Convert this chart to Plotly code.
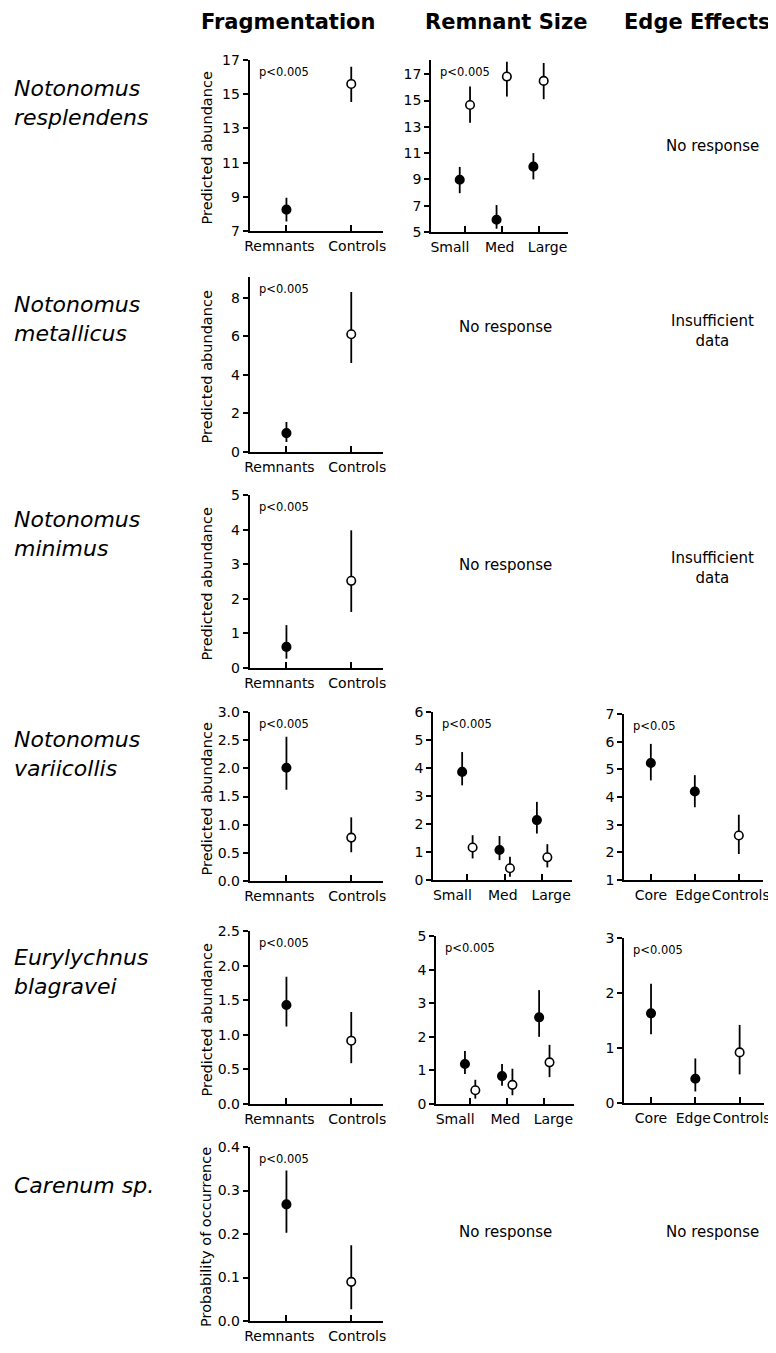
import plotly.graph_objects as go

W, H = 776, 1353
OFF = 8  # page margin of the browser body; figure coordinates are shifted to compensate

# ---------------- data ----------------
COLUMN_HEADERS = ["Fragmentation", "Remnant Size", "Edge Effects"]
SPECIES = [["Notonomus", "resplendens"], ["Notonomus", "metallicus"],
           ["Notonomus", "minimus"], ["Notonomus", "variicollis"],
           ["Eurylychnus", "blagravei"], ["Carenum sp."]]
FRAG_CATS = ["Remnants", "Controls"]
SIZE_CATS = ["Small", "Med", "Large"]
EDGE_CATS = ["Core", "Edge", "Controls"]
FRAG_FILLED = [True, False]
EDGE_FILLED = [True, True, False]

# N. resplendens
resp_frag_mean = [8.25, 15.6]
resp_frag_lo = [7.55, 14.55]
resp_frag_hi = [8.95, 16.6]
resp_size_rem_mean = [8.97, 5.93, 9.97]
resp_size_rem_lo = [7.95, 5.25, 9.0]
resp_size_rem_hi = [9.95, 7.05, 11.0]
resp_size_ctl_mean = [14.66, 16.82, 16.49]
resp_size_ctl_lo = [13.3, 15.3, 15.1]
resp_size_ctl_hi = [16.06, 17.95, 17.85]
# N. metallicus
metal_frag_mean = [0.98, 6.1]
metal_frag_lo = [0.52, 4.61]
metal_frag_hi = [1.55, 8.29]
# N. minimus
minim_frag_mean = [0.61, 2.52]
minim_frag_lo = [0.27, 1.62]
minim_frag_hi = [1.24, 3.98]
# N. variicollis
varii_frag_mean = [2.01, 0.77]
varii_frag_lo = [1.62, 0.51]
varii_frag_hi = [2.56, 1.13]
varii_size_rem_mean = [3.86, 1.07, 2.14]
varii_size_rem_lo = [3.38, 0.71, 1.66]
varii_size_rem_hi = [4.57, 1.57, 2.79]
varii_size_ctl_mean = [1.16, 0.42, 0.81]
varii_size_ctl_lo = [0.77, 0.12, 0.45]
varii_size_ctl_hi = [1.6, 0.83, 1.28]
varii_edge_mean = [5.23, 4.2, 2.61]
varii_edge_lo = [4.6, 3.63, 1.94]
varii_edge_hi = [5.92, 4.79, 3.36]
# Eurylychnus blagravei
eury_frag_mean = [1.43, 0.915]
eury_frag_lo = [1.12, 0.59]
eury_frag_hi = [1.84, 1.33]
eury_size_rem_mean = [1.19, 0.83, 2.58]
eury_size_rem_lo = [0.89, 0.54, 2.0]
eury_size_rem_hi = [1.58, 1.19, 3.39]
eury_size_ctl_mean = [0.41, 0.57, 1.24]
eury_size_ctl_lo = [0.16, 0.26, 0.8]
eury_size_ctl_hi = [0.72, 1.05, 1.76]
eury_edge_mean = [1.63, 0.44, 0.92]
eury_edge_lo = [1.25, 0.21, 0.52]
eury_edge_hi = [2.17, 0.81, 1.42]
# Carenum sp.
caren_frag_mean = [0.268, 0.09]
caren_frag_lo = [0.203, 0.027]
caren_frag_hi = [0.346, 0.174]

P_LABELS = {"p005": "p<0.005", "p05": "p<0.05"}
NO_RESPONSE = "No response"
INSUFFICIENT = "Insufficient<br>data"
YTITLE_ABUND = "Predicted abundance"
YTITLE_PROB = "Probability of occurrence"

# ---------------- layout helpers ----------------
FONT = "DejaVu Sans"
DODGE = 0.14
FW, FH = W - OFF, H - OFF


def fx(x):
    return (x - OFF) / FW


def fy(y):
    return 1 - (y - OFF) / FH


fig = go.Figure()
annotations = []
layout_axes = {}


def marker_trace(xs, ys, lo, hi, filled, ax):
    return go.Scatter(
        x=xs, y=ys, mode="markers", showlegend=False, hoverinfo="skip",
        xaxis="x" + ax, yaxis="y" + ax, cliponaxis=False,
        marker=dict(symbol="circle", size=8.5,
                    color="black" if filled else "white",
                    line=dict(color="black", width=1.6)),
        error_y=dict(type="data", symmetric=False,
                     array=[h - m for h, m in zip(hi, ys)],
                     arrayminus=[m - l for m, l in zip(ys, lo)],
                     width=0, thickness=1.8, color="black"),
    )


def add_panel(n, xd, yd, xr, yr, ytick, yfmt, cats, label_px, series, plabel, ytitle=None):
    ax = "" if n == 1 else str(n)
    lab = str(n + 20)
    for xs, ys, lo, hi, filled in series:
        if xs:
            fig.add_trace(marker_trace(xs, ys, lo, hi, filled, ax))
    # empty trace so that the label axis is drawn
    fig.add_trace(go.Scatter(x=[None], y=[None], mode="markers", showlegend=False,
                             hoverinfo="skip", xaxis="x" + lab, yaxis="y" + ax))
    ticks = list(range(1, len(cats) + 1))
    ppu = (xd[1] - xd[0]) / (xr[1] - xr[0])
    common_x = dict(domain=[fx(xd[0]), fx(xd[1])], range=list(xr), anchor="y" + ax,
                    showgrid=False, zeroline=False, fixedrange=True, automargin=False)
    # axis line + category ticks
    layout_axes["xaxis" + ax] = dict(
        common_x, showline=True, linecolor="black", linewidth=1.5,
        ticks="inside", ticklen=6, tickwidth=1.5, tickcolor="black",
        tickvals=ticks, showticklabels=False)
    # category labels (slightly spread as in the original figure)
    layout_axes["xaxis" + lab] = dict(
        common_x, overlaying="x" + ax, side="bottom", showline=False, ticks="",
        tickmode="array", showticklabels=True,
        tickvals=[t + s / ppu for t, s in zip(ticks, label_px)], ticktext=cats,
        tickangle=0, ticklabelstandoff=5,
        tickfont=dict(family=FONT, size=14, color="black"))
    layout_axes["yaxis" + ax] = dict(
        domain=[fy(yd[1]), fy(yd[0])], range=list(yr), anchor="x" + ax,
        showline=True, linecolor="black", linewidth=1.5,
        ticks="outside", ticklen=5, tickwidth=1.5, tickcolor="black",
        tickvals=ytick, tickformat=yfmt, automargin=False,
        tickfont=dict(family=FONT, size=14, color="black"),
        showgrid=False, zeroline=False, fixedrange=True)
    annotations.append(dict(
        text=plabel, xref="x" + ax + " domain", yref="y" + ax + " domain",
        x=7 / (xd[1] - xd[0]), y=1, xanchor="left", yanchor="middle", yshift=-12,
        showarrow=False, font=dict(family=FONT, size=11.5, color="black")))
    if ytitle:
        annotations.append(dict(
            text=ytitle, xref="paper", yref="paper", x=fx(206),
            y=fy((yd[0] + yd[1]) / 2 + 3), textangle=-90, xanchor="center",
            yanchor="middle", showarrow=False,
            font=dict(family=FONT, size=14.5, color="black")))


def split2(means, lo, hi, flags, positions):
    f = [i for i, v in enumerate(flags) if v]
    o = [i for i, v in enumerate(flags) if not v]
    return [([positions[i] for i in f], [means[i] for i in f], [lo[i] for i in f], [hi[i] for i in f], True),
            ([positions[i] for i in o], [means[i] for i in o], [lo[i] for i in o], [hi[i] for i in o], False)]


def size_series(rm, rl, rh, cm, cl, ch):
    base = list(range(1, len(SIZE_CATS) + 1))
    return [([b - DODGE for b in base], rm, rl, rh, True),
            ([b + DODGE for b in base], cm, cl, ch, False)]


FRAG_POS = list(range(1, len(FRAG_CATS) + 1))
EDGE_POS = list(range(1, len(EDGE_CATS) + 1))
FX = (249.5, 383)
FRX = (0.43, 2.49)
SRX = (0.08, 3.8)
ERX = (0.39, 3.55)
FLAB = [-7, 6]
SLAB = [-15, -2, 9]
ELAB = [0, -2, 2]

# Row 1
add_panel(1, FX, (60, 231), FRX, (7, 17), [7, 9, 11, 13, 15, 17], "d", FRAG_CATS, FLAB,
          split2(resp_frag_mean, resp_frag_lo, resp_frag_hi, FRAG_FILLED, FRAG_POS),
          P_LABELS["p005"], YTITLE_ABUND)
add_panel(2, (431, 568), (60, 232), SRX, (5, 18.08), [5, 7, 9, 11, 13, 15, 17], "d", SIZE_CATS, SLAB,
          size_series(resp_size_rem_mean, resp_size_rem_lo, resp_size_rem_hi,
                      resp_size_ctl_mean, resp_size_ctl_lo, resp_size_ctl_hi),
          P_LABELS["p005"])
# Row 2
add_panel(3, FX, (277, 452), FRX, (0, 9.07), [0, 2, 4, 6, 8], "d", FRAG_CATS, FLAB,
          split2(metal_frag_mean, metal_frag_lo, metal_frag_hi, FRAG_FILLED, FRAG_POS),
          P_LABELS["p005"], YTITLE_ABUND)
# Row 3
add_panel(4, FX, (495, 668), FRX, (0, 5), [0, 1, 2, 3, 4, 5], "d", FRAG_CATS, FLAB,
          split2(minim_frag_mean, minim_frag_lo, minim_frag_hi, FRAG_FILLED, FRAG_POS),
          P_LABELS["p005"], YTITLE_ABUND)
# Row 4
add_panel(5, FX, (712, 881), FRX, (0, 3), [0, 0.5, 1, 1.5, 2, 2.5, 3], ".1f", FRAG_CATS, FLAB,
          split2(varii_frag_mean, varii_frag_lo, varii_frag_hi, FRAG_FILLED, FRAG_POS),
          P_LABELS["p005"], YTITLE_ABUND)
add_panel(6, (433, 572), (712, 880), SRX, (0, 6), [0, 1, 2, 3, 4, 5, 6], "d", SIZE_CATS, SLAB,
          size_series(varii_size_rem_mean, varii_size_rem_lo, varii_size_rem_hi,
                      varii_size_ctl_mean, varii_size_ctl_lo, varii_size_ctl_hi),
          P_LABELS["p005"])
add_panel(7, (624, 763), (714, 880), ERX, (1, 7), [1, 2, 3, 4, 5, 6, 7], "d", EDGE_CATS, ELAB,
          split2(varii_edge_mean, varii_edge_lo, varii_edge_hi, EDGE_FILLED, EDGE_POS),
          P_LABELS["p05"])
# Row 5
add_panel(8, FX, (931, 1104), FRX, (0, 2.5), [0, 0.5, 1, 1.5, 2, 2.5], ".1f", FRAG_CATS, FLAB,
          split2(eury_frag_mean, eury_frag_lo, eury_frag_hi, FRAG_FILLED, FRAG_POS),
          P_LABELS["p005"], YTITLE_ABUND)
add_panel(9, (436, 574), (936, 1104), SRX, (0, 5), [0, 1, 2, 3, 4, 5], "d", SIZE_CATS, SLAB,
          size_series(eury_size_rem_mean, eury_size_rem_lo, eury_size_rem_hi,
                      eury_size_ctl_mean, eury_size_ctl_lo, eury_size_ctl_hi),
          P_LABELS["p005"])
add_panel(10, (624, 764), (938, 1103), ERX, (0, 3), [0, 1, 2, 3], "d", EDGE_CATS, ELAB,
          split2(eury_edge_mean, eury_edge_lo, eury_edge_hi, EDGE_FILLED, EDGE_POS),
          P_LABELS["p005"])
# Row 6
add_panel(11, FX, (1147, 1321), FRX, (0, 0.4), [0, 0.1, 0.2, 0.3, 0.4], ".1f", FRAG_CATS, FLAB,
          split2(caren_frag_mean, caren_frag_lo, caren_frag_hi, FRAG_FILLED, FRAG_POS),
          P_LABELS["p005"], YTITLE_PROB)

# column headers
for text, cx in zip(COLUMN_HEADERS, [288, 506, 697]):
    annotations.append(dict(text="<b>" + text + "</b>", xref="paper", yref="paper",
                            x=fx(cx), y=fy(22), xanchor="center", yanchor="middle",
                            showarrow=False, font=dict(family=FONT, size=21, color="black")))

# species labels
for lines, cy in zip(SPECIES, [103, 319, 534, 754, 972, 1185]):
    annotations.append(dict(text="<i>" + "<br>".join(lines) + "</i>", xref="paper", yref="paper",
                            x=fx(12), y=fy(cy), xanchor="left", yanchor="middle", align="left",
                            showarrow=False, font=dict(family=FONT, size=22, color="black")))

# no-response / insufficient-data notes
for text, cx, cy in [(NO_RESPONSE, 712, 146), (NO_RESPONSE, 505, 327), (INSUFFICIENT, 712, 331),
                     (NO_RESPONSE, 505, 565), (INSUFFICIENT, 712, 568),
                     (NO_RESPONSE, 505, 1232), (NO_RESPONSE, 712, 1232)]:
    annotations.append(dict(text=text, xref="paper", yref="paper", x=fx(cx), y=fy(cy),
                            xanchor="center", yanchor="middle", align="center", showarrow=False,
                            font=dict(family=FONT, size=15, color="black")))

fig.update_layout(template="none", width=FW, height=FH,
                  margin=dict(l=0, r=0, t=0, b=0, autoexpand=False),
                  paper_bgcolor="white", plot_bgcolor="white",
                  font=dict(family=FONT, color="black"),
                  annotations=annotations, **layout_axes)

fig.write_html("out.html")
